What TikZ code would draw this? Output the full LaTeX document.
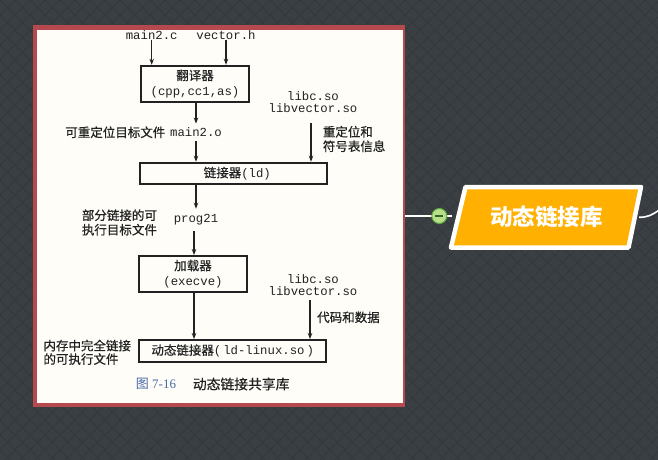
\documentclass[tikz,border=0pt]{standalone}
\usepackage{fontspec}
\setmainfont{Liberation Serif}
\setmonofont{Liberation Mono}
\newfontfamily\cjk{Noto Sans CJK SC}
\newfontfamily\cjkscan{Noto Sans CJK SC}[FakeBold=0.5]
\usetikzlibrary{arrows.meta}
\definecolor{bgdark}{HTML}{3A3F44}
\definecolor{bgline}{HTML}{34383D}
\definecolor{panelred}{HTML}{B5494E}
\definecolor{paper}{HTML}{FEFDF8}
\definecolor{capblue}{HTML}{4A6AA8}
\definecolor{topicorange}{HTML}{FFB000}
\definecolor{knobfill}{HTML}{B8E08C}
\definecolor{knobedge}{HTML}{5FA83A}
\definecolor{ink}{HTML}{222222}
\newcommand\codetxt[1]{{\ttfamily\fontsize{12.3}{15}\selectfont #1}}
\begin{document}
\begin{tikzpicture}[x=1pt,y=-1pt,
  lbl/.style={inner sep=0pt, font=\cjkscan\fontsize{12.5}{14.5}\selectfont, text=ink},
  code/.style={inner sep=0pt, font=\ttfamily\fontsize{12.3}{12.3}\selectfont, text=ink},
  stage/.style={draw=ink, line width=1.8pt, fill=paper, inner sep=0pt, align=center, text=ink,
                font=\cjkscan\fontsize{12.5}{15}\selectfont},
  arr/.style={-{Stealth[length=6pt,width=4.5pt]}, line width=1.2pt, draw=ink},
  wire/.style={white, line width=1.6pt}
]
% background
\fill[bgdark] (0,0) rectangle (658,460);
\useasboundingbox (0,0) rectangle (658,460);
\begin{scope}
  \clip (0,0) rectangle (658,460);
  \foreach \k in {-465,-450,...,675} {
    \draw[bgline, line width=0.8pt] (\k,0) -- ++(470,470);
  }
  \foreach \k in {0,15,...,1140} {
    \draw[bgline, line width=0.8pt] (\k,0) -- ++(-470,470);
  }
\end{scope}
% panel
\fill[panelred] (33,25) rectangle (405,407);
\fill[paper] (37,30) rectangle (403,403);

% diagram
\node[code] (src1) at (151.7,35) {main2.c};
\node[code] (src2) at (226,35) {vector.h};
\node[stage, minimum width=108pt, minimum height=36pt] (trans) at (195,83.7)
  {翻译器\\\codetxt{(cpp,cc1,as)}};
\draw[arr] (src1) -- (src1 |- trans.north);
\draw[arr] (src2) -- (src2 |- trans.north);

\node[code, inner ysep=4pt] (main2o) at (196,132.3) {main2.o};
\node[lbl, anchor=east] (relolab) at (165.5,132.3) {可重定位目标文件};
\draw[arr] (main2o |- trans.south) -- (main2o.north);

\node[stage, minimum width=186.7pt, minimum height=21.3pt] (ld) at (233.3,173.3)
  {\hspace*{8pt}链接器\codetxt{(ld)}};
\draw[arr] (main2o) -- (main2o |- ld.north);

\node[code, align=center] (libs1) at (313,102) {libc.so\\libvector.so};
\draw[arr, shorten <=10pt] ([xshift=-2pt]libs1.south) -- ([xshift=-2pt]libs1.south |- ld.north);
\node[lbl, align=left, anchor=west] (relinfo) at (322.7,139) {重定位和\\符号表信息};

\node[code] (prog21) at (196,219.3) {prog21};
\draw[arr, shorten >=5pt] (prog21 |- ld.south) -- (prog21.north);
\node[lbl, align=left, anchor=west] (partlab) at (81.7,222.5) {部分链接的可\\执行目标文件};

\node[stage, minimum width=107.4pt, minimum height=35.7pt] (loader) at (193,273.8)
  {加载器\\\codetxt{(execve)}};
\draw[arr, shorten <=6pt] ([xshift=-2pt]prog21.south) -- ([xshift=-2pt]prog21.south |- loader.north);

\node[code, align=center] (libs2) at (313,285) {libc.so\\libvector.so};
\node[lbl, anchor=west] (codedata) at (317,317.3) {代码和数据};
\node[stage, minimum width=186.7pt, minimum height=21.7pt] (dyn) at (232.7,350.8)
  {动态链接器\codetxt{(\,ld-linux.so\,)}};
\draw[arr, shorten <=4pt] ([xshift=-3pt]libs2.south) -- ([xshift=-3pt]libs2.south |- dyn.north);
\draw[arr] ([xshift=1pt]loader.south) -- ([xshift=1pt]loader.south |- dyn.north);
\node[lbl, align=left, anchor=west, font=\cjkscan\fontsize{12.5}{13.5}\selectfont] (memlab) at (43.3,352.3)
  {内存中完全链接\\的可执行文件};

\node[lbl, text=capblue, font=\fontsize{13}{13}\selectfont] (capnum) at (156,384) {{\cjk 图} 7-16};
\node[lbl, anchor=west, font=\cjkscan\fontsize{13.8}{14}\selectfont] (captxt) at (192.7,384) {动态链接共享库};

% mind-map part
\coordinate (panelR) at (405,216);
\coordinate (knobR) at (452,216);
\draw[wire] (panelR) -- (knobR);
\node[circle, draw=knobedge, fill=knobfill, line width=1pt, minimum size=15pt, inner sep=0pt] (knob) at (439.3,216) {};
\draw[knobedge!60!black, line width=1.3pt] ([xshift=-4pt]knob.center) -- ([xshift=4pt]knob.center);
\draw[white, line width=4.5pt, fill=topicorange, line join=round]
  (465.5,187) -- (641,187) -- (628.5,247.5) -- (451,247.5) -- cycle;
\node[text=white, inner sep=0pt, font=\cjk\bfseries\fontsize{22.5}{22.5}\selectfont] (topic) at (546.7,217.3) {动态链接库};
\coordinate (topicR) at (639,217.3);
\coordinate (offR) at (660,209.5);
\draw[wire] (topicR) .. controls (648,217.3) and (652,215) .. (offR);
\end{tikzpicture}
\end{document}
